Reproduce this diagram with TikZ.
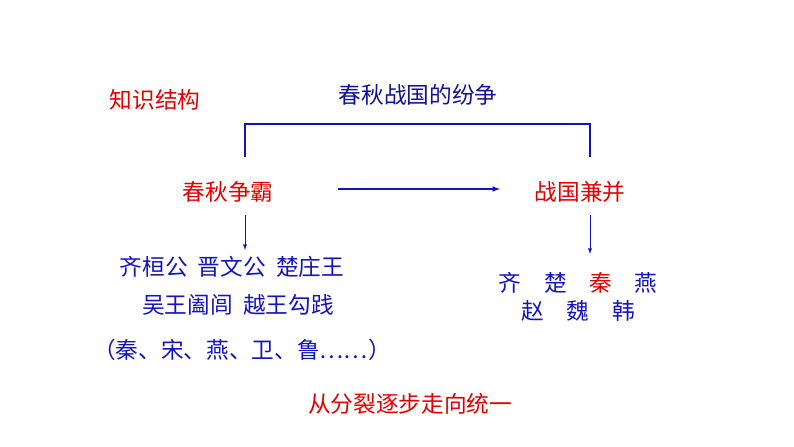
\documentclass[tikz,border=0pt]{standalone}
\usepackage{fontspec}
\newfontfamily\cjk{Noto Sans CJK SC}
\usetikzlibrary{positioning}
\definecolor{ttblue}{RGB}{20,20,190}
\definecolor{ttred}{RGB}{225,0,0}
\tikzset{
  txt/.style={font=\cjk\fontsize{17}{20}\selectfont,inner sep=1pt},
  hd/.style={txt,text=ttred},
  it/.style={txt,text=ttblue},
  ln/.style={ttblue,line width=0.9pt},
  tip/.style={ttblue,line width=0.5pt,-latex}
}
\begin{document}
\begin{tikzpicture}[x=0.75pt,y=-0.75pt]
\useasboundingbox (0,0) rectangle (794,447);
\node[hd] (know) at (155,100) {知识结构};
\node[txt,text=ttblue!80!black] (top) at (418,95) {春秋战国的纷争};
\node[hd] (cq) at (228,192) {春秋争霸};
\node[hd] (zg) at (580,192) {战国兼并};
\node[it] (ba1) at (232,267) {齐桓公\ \ 晋文公\ \ 楚庄王};
\node[it] (ba2) at (238,305) {吴王阖闾\ \ 越王勾践};
\node[it] (ba3) at (242,350) {（秦、宋、燕、卫、鲁……）};
\node[it] (qx1) at (578,283) {齐\quad 楚\quad \textcolor{ttred}{秦}\quad 燕};
\node[it] (qx2) at (578,311) {赵\quad 魏\quad 韩};
\node[hd] (sum) at (410,404) {从分裂逐步走向统一};
\coordinate (l1) at (245,157);
\coordinate (r1) at (590,157);
\draw[ln] (l1) -- (245,124) -| (r1);
\draw[tip] (245,215) -- (245,250);
\draw[tip] (590,215) -- (590,254);
\draw[ln,-latex] (338,189) -- (500,189);
\end{tikzpicture}
\end{document}
